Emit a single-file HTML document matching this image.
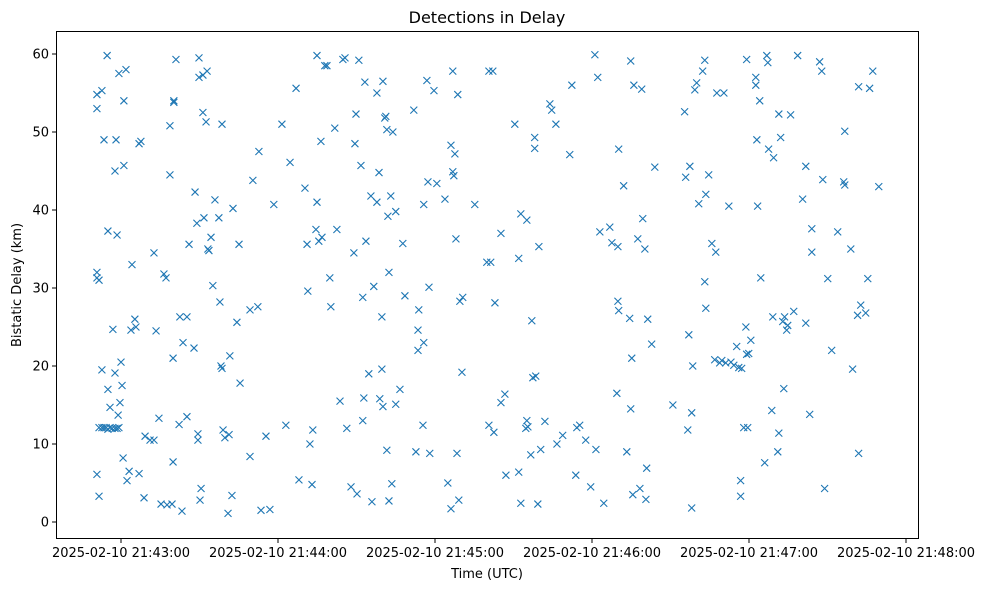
<!DOCTYPE html>
<html><head><meta charset="utf-8"><style>
html,body{margin:0;padding:0;background:#fff;}
svg{display:block;font-family:"DejaVu Sans","Liberation Sans",sans-serif;}
</style></head><body>
<svg id="chart" width="988" height="590" viewBox="0 0 988 590">
<rect x="0" y="0" width="988" height="590" fill="#fff"/>
<text x="487" y="23" text-anchor="middle" font-size="16" fill="#000">Detections in Delay</text>
<g id="points"></g>
<g id="xaxis"></g>
<g id="yaxis"></g>
<rect x="56.5" y="31.5" width="862" height="507" fill="none" stroke="#000" stroke-width="1"/>
<text x="487" y="578" text-anchor="middle" font-size="13">Time (UTC)</text>
<text x="21" y="285" text-anchor="middle" font-size="13" transform="rotate(-90 21 285)">Bistatic Delay (km)</text>
</svg>
<script>
// seconds relative to 2025-02-10 21:43:00 UTC
const timeSec = [-9.2,-9.2,-8.4,-9.2,-9.2,-7.3,-9.2,-8.4,-7.3,-6.5,-5.3,-5.0,-5.0,-4.2,-3.1,-2.3,-1.9,-1.5,-0.8,0,0.4,-0.4,-1.1,0.8,1.1,1.1,1.9,2.3,3.1,3.8,4.2,5.3,5.7,6.9,7.6,6.9,8.8,9.2,11.1,12.6,12.6,13.4,14.5,15.3,16.4,17.2,17.6,18.7,18.7,19.5,19.9,19.9,20.2,20.2,21.0,22.2,22.5,23.3,23.7,25.2,25.2,26.0,27.9,28.3,29.0,29.4,29.4,29.8,29.8,30.2,30.6,31.3,31.3,31.7,32.9,32.5,33.2,33.6,34.4,35.1,35.9,37.4,37.8,38.2,38.6,38.6,39.0,39.7,40.9,41.3,41.6,42.4,42.8,44.3,45.1,45.5,49.3,49.3,50.4,52.3,52.7,53.5,55.4,56.9,58.4,61.5,63.0,64.6,66.9,68.0,70.3,71.1,71.4,72.2,73.0,73.3,74.9,74.5,74.9,75.6,76.4,76.8,77.9,78.7,79.8,80.2,81.7,82.5,83.7,84.8,85.6,86.3,87.9,89.0,89.4,90.2,89.8,90.9,91.7,92.4,92.4,92.8,93.2,93.6,94.7,95.5,95.9,96.6,97.8,97.8,98.6,98.9,99.7,100.1,99.7,100.1,100.8,101.2,101.6,102.0,101.6,102.4,102.4,103.1,103.5,103.9,105.0,105.0,106.6,107.7,108.5,111.9,112.7,113.5,113.5,113.8,115.4,115.7,115.7,116.9,117.3,117.7,118.0,119.6,120.7,123.8,124.9,126.1,126.1,126.8,126.8,127.2,127.6,128.0,128.4,128.7,129.1,129.5,130.3,130.6,135.2,139.8,140.6,140.6,142.1,141.3,142.5,142.9,145.2,145.2,146.7,147.1,150.5,152.0,152.0,152.8,152.8,154.7,155.1,155.1,155.5,156.6,157.0,157.4,158.1,158.1,158.5,159.3,159.7,160.4,162.0,163.9,164.6,166.2,166.6,168.8,171.5,172.3,173.8,174.2,175.3,177.6,179.5,181.1,181.5,182.2,183.0,184.5,186.8,187.6,189.5,189.9,189.9,190.2,190.2,192.1,193.3,194.4,194.8,194.8,195.2,195.6,196.0,197.5,198.3,199.0,199.4,200.2,200.6,200.9,201.3,202.8,204.0,210.9,215.4,215.8,216.6,217.0,217.4,218.1,218.5,218.1,219.3,220.0,220.8,222.3,223.1,223.5,223.5,223.1,224.6,225.8,227.3,226.9,227.7,228.8,229.6,230.4,231.1,232.3,233.1,234.2,235.3,236.1,236.8,236.8,237.2,238.0,238.8,239.1,239.5,239.1,239.9,240.7,242.6,242.6,243.0,243.3,244.1,244.5,246.0,246.8,247.2,247.5,248.7,249.1,249.4,251.0,251.4,251.4,252.1,252.9,253.3,253.6,254.4,254.8,255.9,257.1,258.6,260.5,261.7,261.7,263.2,264.0,264.0,267.0,267.8,268.2,268.9,270.1,271.6,273.9,276.6,276.2,276.6,278.9,279.6,281.5,281.9,281.9,282.7,284.6,285.4,286.1,287.3,289.6,-8.4,-7.3,-6.5,-5.7,-5.0,-4.2,-3.4,-2.3,-1.5,-0.8,-2.3];
const delayKm = [32.0,31.3,31,53,54.8,55.3,6.1,3.3,19.5,49,59.8,37.3,17,14.7,24.7,45,49,36.8,57.5,20.5,17.5,15.3,13.7,8.2,54,45.7,58,5.3,6.5,24.6,33,26,25,48.5,48.8,6.2,3.1,11,10.5,10.5,34.5,24.5,13.3,2.3,31.8,31.3,2.2,44.5,50.8,2.3,21,7.7,54,53.8,59.3,12.5,26.3,1.4,23,26.3,13.5,35.6,22.3,42.3,38.3,10.5,11.3,59.5,57,2.8,4.3,57.3,52.5,39,57.8,51.3,35,34.8,36.5,30.3,41.3,39,28.2,20,19.7,51,11.8,10.8,1.1,11.2,21.3,3.4,40.2,25.6,35.6,17.8,8.4,27.2,43.8,27.6,47.5,1.5,11,1.6,40.7,51,12.4,46.1,55.6,5.4,42.8,35.6,29.6,10,4.8,11.8,59.8,37.5,41,36,48.8,36.5,58.5,58.5,31.3,27.6,50.5,37.5,15.5,59.3,59.5,12,4.5,34.5,48.5,3.6,52.3,59.2,45.7,13,28.8,15.9,56.4,36,19,41.8,2.6,30.2,55,41,44.8,15.8,19.6,14.8,26.3,56.5,51.8,52,50.3,39.2,9.2,2.7,32,41.8,4.9,50,15.1,39.8,17,35.7,29,52.8,9,22,24.6,27.2,12.4,40.7,23,56.6,43.6,30.1,8.8,55.3,43.4,41.4,5,48.3,1.7,44.9,57.8,44.4,47.2,36.3,8.8,54.8,2.8,28.3,19.2,28.8,40.7,33.3,12.4,57.8,57.8,33.3,11.5,28.1,15.3,37,16.4,6,51,6.4,33.8,39.5,2.4,12,13,38.7,12.2,8.6,25.8,18.5,47.9,49.3,18.7,2.3,35.3,9.3,12.9,53.6,52.8,51,10,11.1,47.1,56,6,12.1,12.4,10.5,4.5,59.9,9.3,57,37.2,2.4,37.8,35.8,16.5,35.3,28.3,27.1,47.8,43.1,9,26.1,14.5,59.1,21,3.5,56,36.3,4.3,55.5,38.9,35,2.9,6.9,26,22.8,45.5,15,52.6,44.2,11.8,24,45.6,1.8,20,14,55.4,56.3,40.8,57.8,59.2,42,27.4,30.8,44.5,35.7,34.6,20.8,55,20.4,20.7,55,20.4,40.5,20.5,20.1,22.5,19.8,5.3,3.3,19.7,12.1,25,59.3,12.1,21.5,21.6,23.3,57,56,49,40.5,54,31.3,7.6,59.8,58.9,47.8,14.3,26.3,46.7,9,11.4,52.3,49.3,25.7,17.1,26.3,24.6,25.2,52.2,27,59.8,41.4,25.5,45.6,13.8,34.6,37.6,59,57.8,43.9,4.3,31.2,22,37.2,50.1,43.6,43.2,35,19.6,26.5,8.8,55.8,27.8,26.8,31.2,55.6,57.8,43,12.1,12.1,12.1,12.1,11.9,12.1,12,12,12,12.1,19.1];
const xTickSec = [0,60,120,180,240,300];
const xTickLabels = ["2025-02-10 21:43:00","2025-02-10 21:44:00","2025-02-10 21:45:00","2025-02-10 21:46:00","2025-02-10 21:47:00","2025-02-10 21:48:00"];
const yTicks = [0,10,20,30,40,50,60];

const NS = "http://www.w3.org/2000/svg";
function xScale(t){ return 121 + t * (157/60); }
function yScale(d){ return 522 - d * 7.8; }
function mk(tag, attrs, parent){ const e=document.createElementNS(NS,tag); for(const k in attrs) e.setAttribute(k, attrs[k]); parent.appendChild(e); return e; }

const pg = document.getElementById('points');
for (let i=0;i<timeSec.length;i++){
  const cx = xScale(timeSec[i]), cy = yScale(delayKm[i]), r = 3.5;
  const p = mk('path', {d:`M${cx-r},${cy-r}L${cx+r},${cy+r}M${cx-r},${cy+r}L${cx+r},${cy-r}`, stroke:'#1f77b4', 'stroke-width':1.1, fill:'none'}, pg);
  
  
}
const xg = document.getElementById('xaxis');
xTickSec.forEach((t,i)=>{
  const x = xScale(t);
  const tk = mk('line',{x1:x,x2:x,y1:538.5,y2:543,stroke:'#000','stroke-width':1},xg);
  
  
  const lb = mk('text',{x:x,y:557,'text-anchor':'middle','font-size':13},xg);
  lb.textContent = xTickLabels[i];
  
  
});
const yg = document.getElementById('yaxis');
yTicks.forEach(v=>{
  const y = yScale(v);
  const tk = mk('line',{x1:52,x2:56.5,y1:y,y2:y,stroke:'#000','stroke-width':1},yg);
  
  
  const lb = mk('text',{x:49,y:y+4.5,'text-anchor':'end','font-size':13},yg);
  lb.textContent = String(v);
  
  
});
</script>
</body></html>
